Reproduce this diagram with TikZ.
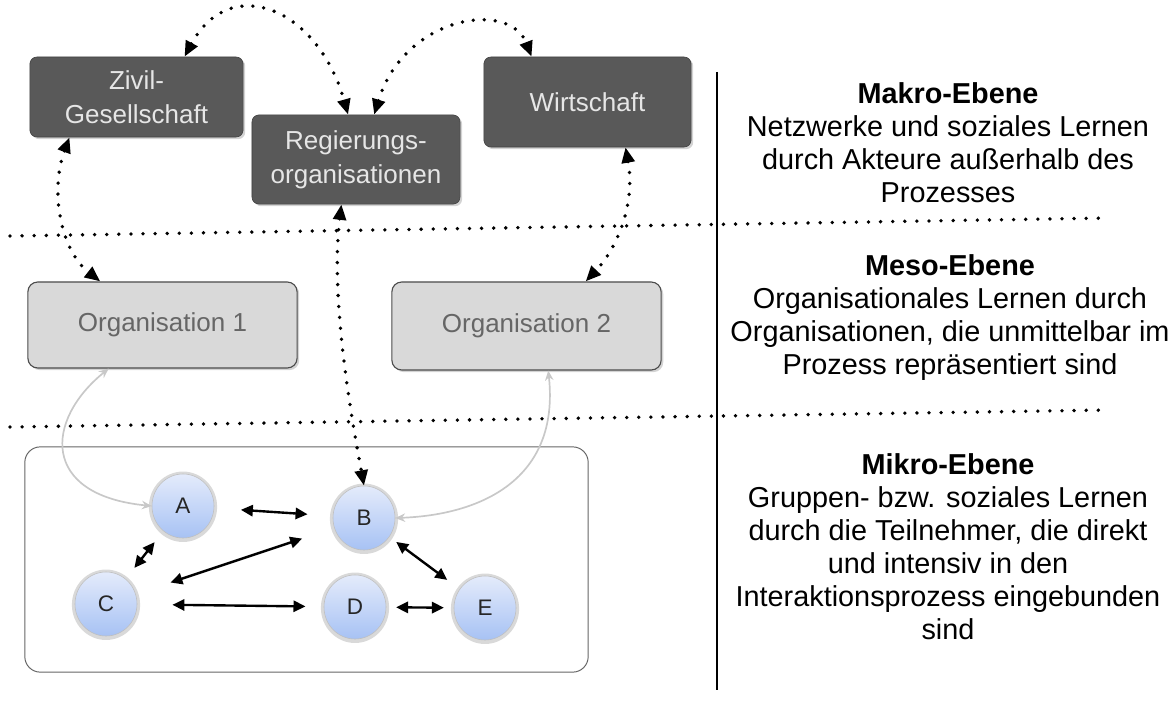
\documentclass[tikz,border=0pt]{standalone}
\usepackage{fontspec}
\setmainfont{Liberation Sans}
\usetikzlibrary{arrows.meta,shapes.geometric,shadows}
\definecolor{makrofill}{HTML}{595959}
\definecolor{makrotext}{HTML}{E6E6E6}
\definecolor{mesofill}{HTML}{D9D9D9}
\definecolor{mesotext}{HTML}{666666}
\definecolor{persontop}{HTML}{E4EBFB}
\definecolor{personbot}{HTML}{A7C2F4}
\definecolor{grayarc}{HTML}{C8C8C8}
\begin{document}
\begin{tikzpicture}[x=0.025cm, y=-0.025cm, line join=round,
  makrobox/.style={rectangle, rounded corners=5pt, draw=black!75, fill=makrofill, text=makrotext,
    align=center, font=\fontsize{18.5}{24.5}\selectfont,
    drop shadow={shadow xshift=1.5pt, shadow yshift=-1.5pt, opacity=.35}},
  orgbox/.style={rectangle, rounded corners=7pt, draw=black!70, line width=.8pt, fill=mesofill, text=mesotext,
    font=\fontsize{18.5}{24.5}\selectfont,
    drop shadow={shadow xshift=1.5pt, shadow yshift=-1.5pt, opacity=.35}},
  mikrobox/.style={rectangle, rounded corners=11pt, draw=black!60, line width=.7pt},
  person/.style={ellipse, minimum width=1.55cm, minimum height=1.6cm, inner sep=0pt, draw=black!25,
    top color=persontop, bottom color=personbot, text=black!85, font=\fontsize{16}{18}\selectfont,
    drop shadow={shadow xshift=0pt, shadow yshift=-.5pt, shadow scale=1.1, opacity=.3}},
  ebenetext/.style={align=center, font=\fontsize{20.5}{23.5}\selectfont},
  ebenesep/.style={line width=2.7pt, line cap=round, dash pattern=on 0pt off 8.6pt},
  dotarrow/.style={line width=2.7pt, line cap=round, dash pattern=on 0pt off 7.8pt,
    {Triangle[length=11pt,width=9pt]}-{Triangle[length=11pt,width=9pt]}},
  grayarrow/.style={draw=grayarc, line width=1.2pt, {Stealth[length=7pt,width=6pt]}-{Stealth[length=7pt,width=6pt]}},
  linkarrow/.style={line width=1.7pt, {Triangle[length=8.5pt,width=8pt]}-{Triangle[length=8.5pt,width=8pt]}}]
\useasboundingbox (0,0) rectangle (1176,702);

\draw[ebenesep] (10,236) -- (1108,218);
\draw[ebenesep] (10,427) -- (1108,410);
\draw[line width=1.2pt] (717,72) -- (717,690);

\node[makrobox, minimum width=5.33cm, minimum height=2cm] (ziv) at (136.5,97) {Zivil-\\Gesellschaft};
\node[makrobox, minimum width=5.2cm, minimum height=2.23cm] (reg) at (356,159.5) {Regierungs-\\organisationen};
\node[makrobox, minimum width=5.18cm, minimum height=2.25cm] (wir) at (587.5,102) {Wirtschaft};
\node[orgbox, minimum width=6.73cm, minimum height=2.15cm] (org1) at (162.5,325) {Organisation 1};
\node[orgbox, minimum width=6.73cm, minimum height=2.2cm] (org2) at (526.5,326) {Organisation 2};
\node[mikrobox, minimum width=14.08cm, minimum height=5.63cm] (mikro) at (306.5,559.5) {};

\foreach \n/\x/\y in {A/183/506, B/364/518, C/106/604, D/355/607, E/485/608}
  \node[person] (\n) at (\x,\y) {\n};

\foreach \a/\b/\s/\t in {A/B/19pt/18pt, A/C/10pt/10pt, C/B/26pt/24pt, C/D/25pt/13pt, D/E/7pt/7pt, B/E/6pt/11pt}
  \draw[linkarrow, shorten <=\s, shorten >=\t] (\a) -- (\b);

\draw[dotarrow] (ziv.40) .. controls (230,-28) and (318,8) .. (reg.100);
\draw[dotarrow] (reg.68) .. controls (405,15) and (510,0) .. (wir.141.5);
\draw[dotarrow] (ziv.211.4) .. controls (50,190) and (60,250) .. (org1.145.5);
\draw[dotarrow] (wir.-50.2) .. controls (635,200) and (620,245) .. (org2.37.9);
\draw[dotarrow] (reg.-108.6) .. controls (330,300) and (352,420) .. (B.north);
\draw[grayarrow] (org1.-141.7) .. controls (45,420) and (40,495) .. (A.west);
\draw[grayarrow] (org2.-64) .. controls (560,480) and (480,515) .. (B.east);

\node[ebenetext] (makro) at (948,142.5) {\textbf{Makro-Ebene}\\Netzwerke und soziales Lernen\\durch Akteure außerhalb des\\Prozesses};
\node[ebenetext] (meso) at (950,317.5) {\textbf{Meso-Ebene}\\Organisationales Lernen durch\\Organisationen, die unmittelbar im\\Prozess repräsentiert sind};
\node[ebenetext] (mikrotext) at (948,547) {\textbf{Mikro-Ebene}\\Gruppen- bzw. soziales Lernen\\durch die Teilnehmer, die direkt\\und intensiv in den\\Interaktionsprozess eingebunden\\sind};
\end{tikzpicture}
\end{document}
